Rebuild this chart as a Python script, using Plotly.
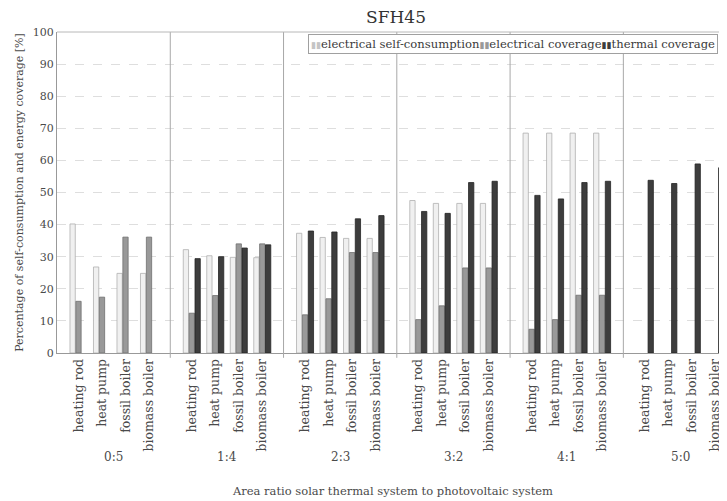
import plotly.graph_objects as go

groups = ["0:5", "1:4", "2:3", "3:2", "4:1", "5:0"]
systems = ["heating rod", "heat pump", "fossil boiler", "biomass boiler"]

# values per group, in order of systems
self_consumption = [
    [40.2, 26.8, 24.8, 24.8],
    [32.2, 30.3, 29.8, 29.7],
    [37.3, 36.0, 35.7, 35.7],
    [47.5, 46.6, 46.6, 46.6],
    [68.5, 68.5, 68.5, 68.5],
    [None, None, None, None],
]
electrical_coverage = [
    [16.1, 17.4, 36.1, 36.1],
    [12.4, 17.9, 34.0, 34.0],
    [11.9, 16.9, 31.3, 31.3],
    [10.4, 14.7, 26.5, 26.5],
    [7.4, 10.4, 18.0, 18.0],
    [None, None, None, None],
]
thermal_coverage = [
    [None, None, None, None],
    [29.4, 30.0, 32.7, 33.7],
    [38.0, 37.7, 41.8, 42.8],
    [44.1, 43.5, 53.1, 53.5],
    [49.1, 48.0, 53.1, 53.5],
    [53.8, 52.8, 58.9, 57.7],
]

series_names = ["electrical self-consumption", "electrical coverage", "thermal coverage"]
series_data = [self_consumption, electrical_coverage, thermal_coverage]
fills = ["#f0f0f0", "#999999", "#3d3d3d"]
outlines = ["#b0b0b0", "#707070", "#252525"]

STEP = 4.82      # group pitch in category units
PAD = 0.915      # space before first category in a group

xs, xlabels = [], []
for g in range(len(groups)):
    for k in range(len(systems)):
        xs.append(g * STEP + k)
        xlabels.append(systems[k])

FONT = "DejaVu Serif"
TXT = "#4a4a4a"
fig = go.Figure()
for name, data, fc, lc in zip(series_names, series_data, fills, outlines):
    ys = [v for row in data for v in row]
    fig.add_trace(go.Bar(x=xs, y=ys, name=name, showlegend=False,
                         marker=dict(color=fc, line=dict(color=lc, width=0.8))))

# page has an 8px body margin, so the figure is laid out 8px up/left
ML, MT, PLOT_H = 49, 24, 321
W, H = 727, 501
plot_w = W - ML
x0 = -PAD
x1 = x0 + plot_w / 23.5

shapes = []
for g in range(1, len(groups)):
    xb = g * STEP - PAD
    shapes.append(dict(type="line", xref="x", yref="paper", x0=xb, x1=xb, y0=-0.015, y1=1,
                       line=dict(color="#a8a8a8", width=1)))
shapes.append(dict(type="line", xref="paper", yref="paper", x0=0, x1=1, y0=1, y1=1,
                   line=dict(color="#b8b8b8", width=1)))

annotations = []
for g, lab in enumerate(groups):
    annotations.append(dict(x=g * STEP + 1.5, y=-0.324, xref="x", yref="paper",
                            yanchor="middle", text=lab, showarrow=False,
                            font=dict(size=12, color=TXT, family=FONT)))
annotations.append(dict(x=(384 - ML) / plot_w, y=-0.430, xref="paper", yref="paper",
                        yanchor="middle", xanchor="center",
                        text="Area ratio solar thermal system to photovoltaic system",
                        showarrow=False, font=dict(size=11.5, color=TXT, family=FONT)))

# legend box (compact, like the reference)
icon = "<span style='font-size:9px;color:{c}'>▮▮</span>"
legend_text = "".join(icon.format(c=c) + n for c, n in
                      zip(["#c4c4c4", "#999999", "#3d3d3d"], series_names))
annotations.append(dict(x=(710 - ML) / plot_w, y=0.995, xref="paper", yref="paper",
                        xanchor="right", yanchor="top", showarrow=False,
                        text=legend_text, bgcolor="white", bordercolor="#a0a0a0",
                        borderwidth=1, borderpad=2,
                        font=dict(size=11.6, color="#3a3a3a", family=FONT)))

fig.update_layout(
    width=W, height=H,
    margin=dict(l=ML, r=0, t=MT, b=H - MT - PLOT_H, autoexpand=False),
    paper_bgcolor="white", plot_bgcolor="white",
    font=dict(family=FONT, color=TXT),
    title=dict(text="SFH45", x=388 / W, xanchor="center", y=1 - 3 / H, yanchor="top",
               font=dict(size=17, color="#333", family=FONT)),
    barmode="group", bargap=0.25, bargroupgap=0.1,
    showlegend=False,
    xaxis=dict(range=[x0, x1], tickmode="array", tickvals=xs, ticktext=xlabels,
               tickangle=-90, tickfont=dict(size=12.5, color=TXT, family=FONT),
               showgrid=False, zeroline=False, showline=True, linecolor="#999",
               ticks="", ticklen=0, automargin=False),
    yaxis=dict(range=[0, 100], dtick=10, tickfont=dict(size=11, color=TXT, family=FONT),
               showgrid=True, gridcolor="#dedede", griddash="dash",
               zeroline=False, showline=True, linecolor="#999", automargin=False,
               title=dict(text="Percentage of self-consumption and energy coverage [%]",
                          font=dict(size=11, color=TXT, family=FONT), standoff=6)),
    shapes=shapes, annotations=annotations,
)

fig.write_html("out.html")
